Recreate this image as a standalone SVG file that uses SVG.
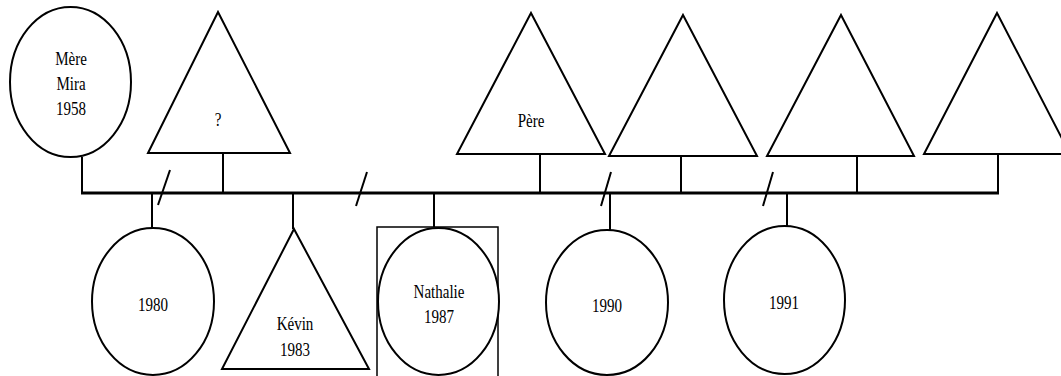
<svg xmlns="http://www.w3.org/2000/svg" width="1061" height="376" viewBox="0 0 1061 376">
<style>
.s{fill:none;stroke:#000;stroke-width:2}
.n{fill:#fff;stroke:#000;stroke-width:2}
.c{fill:none;stroke:#000;stroke-width:2}
.m{fill:none;stroke:#000;stroke-width:3}
.t{font-family:"Liberation Serif","Times New Roman","DejaVu Serif",serif;font-size:19.5px;fill:#000;text-anchor:middle}
</style>
<rect width="1061" height="376" fill="#fff"/>
<g id="connectors">
<line class="m" x1="81" y1="193" x2="999" y2="193"/>
<line class="c" x1="82" y1="157" x2="82" y2="193"/>
<line class="c" x1="223" y1="153" x2="223" y2="193"/>
<line class="c" x1="540" y1="154" x2="540" y2="193"/>
<line class="c" x1="681" y1="156" x2="681" y2="193"/>
<line class="c" x1="857" y1="156" x2="857" y2="193"/>
<line class="c" x1="998" y1="154" x2="998" y2="193"/>
<line class="c" x1="152" y1="193" x2="152" y2="228"/>
<line class="c" x1="293" y1="193" x2="293" y2="229"/>
<line class="c" x1="434" y1="193" x2="434" y2="227"/>
<line class="c" x1="610" y1="193" x2="610" y2="230"/>
<line class="c" x1="787" y1="193" x2="787" y2="226"/>
<line class="c" x1="170" y1="170" x2="158" y2="205"/>
<line class="c" x1="367" y1="172" x2="356" y2="206"/>
<line class="c" x1="611" y1="172" x2="601" y2="206"/>
<line class="c" x1="773" y1="172" x2="763" y2="206"/>
</g>
<g id="mere">
<ellipse class="n" cx="70.5" cy="82" rx="60.5" ry="75"/>
<text class="t" transform="translate(71 65) scale(0.77 1)">Mère</text>
<text class="t" transform="translate(71 90) scale(0.77 1)">Mira</text>
<text class="t" transform="translate(71 115) scale(0.77 1)">1958</text>
</g>
<g id="inconnu">
<polygon class="n" points="218,12 290,153 148,153"/>
<text class="t" transform="translate(218 126) scale(0.77 1)">?</text>
</g>
<g id="pere">
<polygon class="n" points="531,13 605,154 457,154"/>
<text class="t" transform="translate(531 127) scale(0.77 1)">Père</text>
</g>
<g id="homme3">
<polygon class="n" points="683,15 757,156 609,156"/>
</g>
<g id="homme4">
<polygon class="n" points="841,15 914,156 767,156"/>
</g>
<g id="homme5">
<polygon class="n" points="997,13 1070,154 924,154"/>
</g>
<g id="enfant1980">
<ellipse class="n" cx="153" cy="301.5" rx="61" ry="73.5"/>
<text class="t" transform="translate(153 311) scale(0.77 1)">1980</text>
</g>
<g id="kevin">
<polygon class="n" points="294,229 369,369 222,369"/>
<text class="t" transform="translate(295 330) scale(0.77 1)">Kévin</text>
<text class="t" transform="translate(295 356) scale(0.77 1)">1983</text>
</g>
<g id="nathalie">
<rect class="s" x="377" y="227" width="121" height="155" style="stroke-width:1.5"/>
<ellipse class="n" cx="438.5" cy="301.5" rx="60.5" ry="73.5"/>
<text class="t" transform="translate(439 298) scale(0.77 1)">Nathalie</text>
<text class="t" transform="translate(439 323) scale(0.77 1)">1987</text>
</g>
<g id="enfant1990">
<ellipse class="n" cx="607" cy="302.5" rx="61" ry="72.5"/>
<text class="t" transform="translate(607 312) scale(0.77 1)">1990</text>
</g>
<g id="enfant1991">
<ellipse class="n" cx="784.5" cy="300" rx="60.5" ry="74"/>
<text class="t" transform="translate(784 309) scale(0.77 1)">1991</text>
</g>
</svg>
